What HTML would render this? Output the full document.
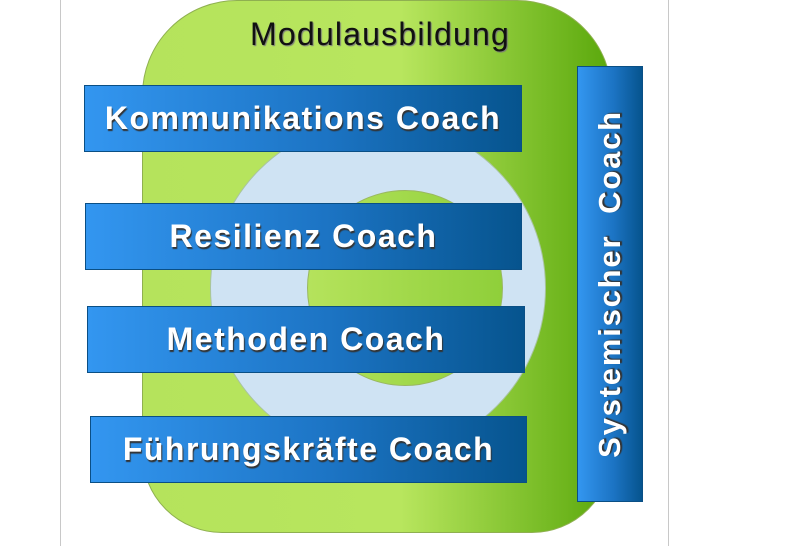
<!DOCTYPE html>
<html><head><meta charset="utf-8"><style>
body{margin:0;width:800px;height:546px;background:#fff;position:relative;overflow:hidden;font-family:"Liberation Sans",sans-serif}
.vl{position:absolute;top:0;width:1px;height:546px;background:#c8c8c8}
.green{position:absolute;left:142px;top:0;width:470px;height:533px;border-radius:95px 95px 80px 80px;background:linear-gradient(90deg,#b5e35c 0%,#b8e65e 55%,#5aa80c 100%);border:1px solid #8fb050;box-sizing:border-box}
.c1{position:absolute;left:210px;top:120px;width:336px;height:336px;border-radius:50%;background:#cfe3f3;border:1px solid #a9c4a0;box-sizing:border-box}
.c2{position:absolute;left:307px;top:190px;width:196px;height:196px;border-radius:50%;background:linear-gradient(90deg,#b5e35c,#8fcf3a);border:1px solid #9ab860;box-sizing:border-box}
.bar{position:absolute;height:67px;background:linear-gradient(90deg,#3396f0,#1c74c4 55%,#06548e);border:1px solid #0a4f85;box-sizing:border-box;color:#fff;font-weight:bold;font-size:32px;letter-spacing:1.5px;display:flex;align-items:center;justify-content:center;text-shadow:1px 2px 1px #333}
.title{position:absolute;left:250px;top:16px;font-size:32px;color:#111;text-shadow:1px 1px 1px #777;letter-spacing:1.2px}
.vbar{position:absolute;left:577px;top:66px;width:66px;height:436px;background:linear-gradient(90deg,#3396f0,#1c74c4 55%,#06548e);border:1px solid #0a4f85;box-sizing:border-box}
.vt{position:absolute;left:610px;top:284px;transform:translate(-50%,-50%) rotate(-90deg);white-space:nowrap;color:#fff;font-weight:bold;font-size:31px;letter-spacing:1.8px;text-shadow:1px 2px 1px #333}
</style></head><body>
<div class="vl" style="left:60px"></div><div class="vl" style="left:668px"></div>
<div class="green"></div>
<div class="c1"></div><div class="c2"></div>
<div class="title">Modulausbildung</div>
<div class="bar" style="left:84px;top:85px;width:438px">Kommunikations Coach</div>
<div class="bar" style="left:85px;top:203px;width:437px">Resilienz Coach</div>
<div class="bar" style="left:87px;top:306px;width:438px">Methoden Coach</div>
<div class="bar" style="left:90px;top:416px;width:437px">Führungskräfte Coach</div>
<div class="vbar"></div>
<div class="vt">Systemischer&nbsp; Coach</div>
</body></html>
